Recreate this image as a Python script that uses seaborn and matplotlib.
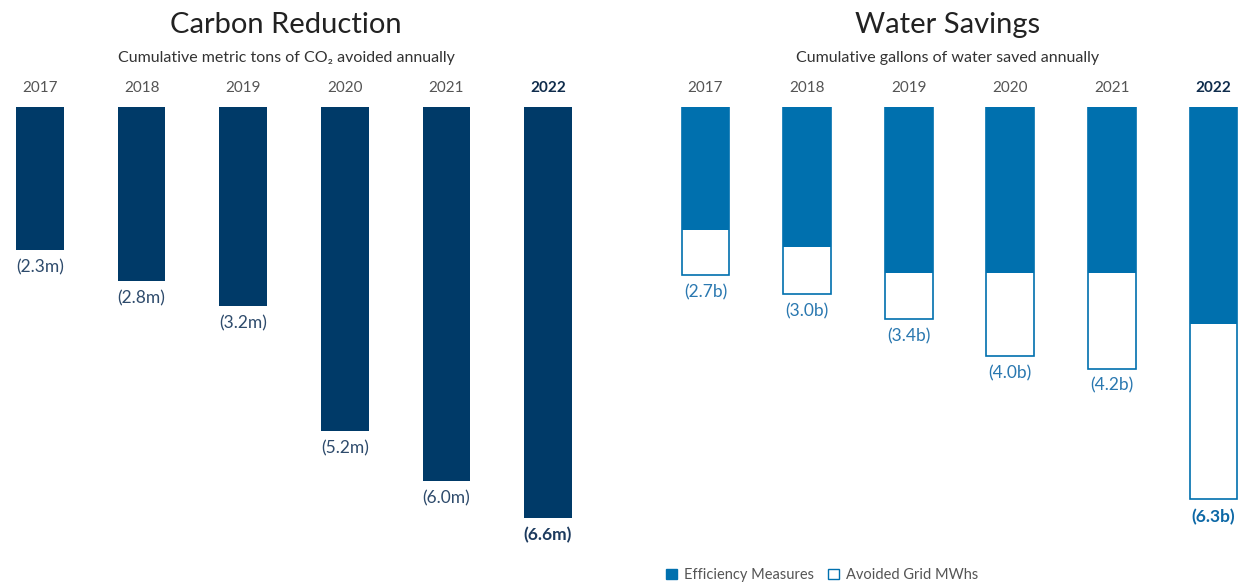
import matplotlib
matplotlib.use("Agg")
import matplotlib.pyplot as plt
import seaborn as sns
from matplotlib.patches import Patch

# ---- data ----
years = ["2017", "2018", "2019", "2020", "2021", "2022"]
carbon_total = [2.3, 2.8, 3.2, 5.2, 6.0, 6.6]
carbon_labels = ["(2.3m)", "(2.8m)", "(3.2m)", "(5.2m)", "(6.0m)", "(6.6m)"]
water_total = [2.7, 3.0, 3.4, 4.0, 4.2, 6.3]
water_efficiency = [1.97, 2.24, 2.66, 2.66, 2.66, 3.49]
water_labels = ["(2.7b)", "(3.0b)", "(3.4b)", "(4.0b)", "(4.2b)", "(6.3b)"]
legend_labels = ["Efficiency Measures", "Avoided Grid MWhs"]

NAVY = "#003a68"
BLUE = "#0070ae"
GRAY = "#555555"
DARK = "#0f2c4c"

sns.set_theme(style="white")
plt.rcParams["font.family"] = ["Lato", "DejaVu Sans"]

W, H = 1246, 582
fig = plt.figure(figsize=(W / 100, H / 100), dpi=100)

top_px = 107
ppu = 62.3  # pixels per unit
spacing = 101.6
ymax = (H - top_px) / ppu


def make_ax(x0_px, x1_px):
    return fig.add_axes([x0_px / W, 0, (x1_px - x0_px) / W, (H - top_px) / H])


def fix_xlim(ax, x0_px, x1_px, c0_px):
    ax.set_xlim((x0_px - c0_px) / spacing, (x1_px - c0_px) / spacing)


ax1 = make_ax(0, 620)
ax2 = make_ax(640, 1246)

# Carbon bars
sns.barplot(x=years, y=carbon_total, color=NAVY, saturation=1, width=0.47,
            ax=ax1, linewidth=0)
# Water bars: total (outlined), efficiency (filled)
sns.barplot(x=years, y=water_total, color="white", saturation=1, width=0.47,
            ax=ax2, edgecolor=BLUE, linewidth=1.2)
sns.barplot(x=years, y=water_efficiency, color=BLUE, saturation=1, width=0.47,
            ax=ax2, linewidth=0)

fix_xlim(ax1, 0, 620, 40)
fix_xlim(ax2, 640, 1246, 705.5)

for ax in (ax1, ax2):
    ax.set_ylim(ymax, 0)
    for s in ax.spines.values():
        s.set_visible(False)
    ax.set_yticks([])
    ax.set_ylabel("")
    ax.set_xlabel("")
    ax.xaxis.tick_top()
    ax.tick_params(axis="x", length=0, pad=9, labelsize=11, labelcolor=GRAY)
    ax.patch.set_alpha(0)
    for i, t in enumerate(ax.get_xticklabels()):
        if i == len(years) - 1:
            t.set_fontweight("bold")
            t.set_color(DARK)

# value labels
for i, (v, lab) in enumerate(zip(carbon_total, carbon_labels)):
    last = i == len(years) - 1
    ax1.annotate(lab, (i, v), xytext=(0, -6.5), textcoords="offset points",
                 ha="center", va="top", fontsize=12.5,
                 color="#1c3a5e" if last else "#2e4b6c",
                 fontweight="bold" if last else "normal")
for i, (v, lab) in enumerate(zip(water_total, water_labels)):
    last = i == len(years) - 1
    ax2.annotate(lab, (i, v), xytext=(0, -6.5), textcoords="offset points",
                 ha="center", va="top", fontsize=12.5,
                 color="#0d68a6" if last else "#2a78b0",
                 fontweight="bold" if last else "normal")

# titles
fig.text(286 / W, 1 - 25 / H, "Carbon Reduction", ha="center", va="center",
         fontsize=21, color="#222222")
fig.text(286 / W, 1 - 58 / H, "Cumulative metric tons of CO\u2082 avoided annually",
         ha="center", va="center", fontsize=11.5, color="#333333")
fig.text(948 / W, 1 - 25 / H, "Water Savings", ha="center", va="center",
         fontsize=21, color="#222222")
fig.text(948 / W, 1 - 58 / H, "Cumulative gallons of water saved annually",
         ha="center", va="center", fontsize=11.5, color="#333333")

# legend
handles = [Patch(facecolor=BLUE, edgecolor=BLUE, linewidth=1),
           Patch(facecolor="white", edgecolor=BLUE, linewidth=1)]
fig.legend(handles, legend_labels, loc="center left",
           bbox_to_anchor=(659 / W, 1 - 575 / H), ncol=2, frameon=False,
           fontsize=10.5, labelcolor=GRAY, handlelength=0.75, handleheight=0.75,
           handletextpad=0.45, columnspacing=1.0, borderpad=0)

fig.savefig("out.png", dpi=100, facecolor="white")
